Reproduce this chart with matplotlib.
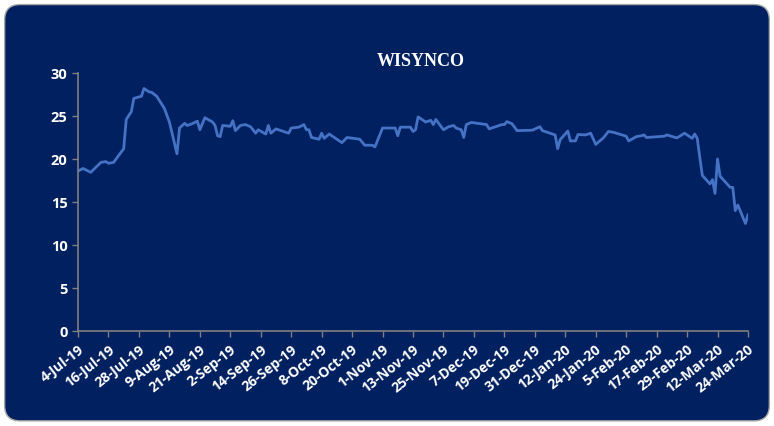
import matplotlib
matplotlib.use("Agg")
import matplotlib.pyplot as plt
import matplotlib.dates as mdates
from matplotlib.patches import FancyBboxPatch
import pandas as pd

# closing price readings (approximate)
dates = ["2019-07-04", "2019-07-06", "2019-07-09", "2019-07-13", "2019-07-15", "2019-07-16",
         "2019-07-18", "2019-07-20", "2019-07-22", "2019-07-23", "2019-07-25", "2019-07-26",
         "2019-07-29", "2019-07-30", "2019-08-01", "2019-08-02", "2019-08-04", "2019-08-07",
         "2019-08-09", "2019-08-12", "2019-08-13", "2019-08-15", "2019-08-16", "2019-08-18",
         "2019-08-20", "2019-08-21", "2019-08-23", "2019-08-26", "2019-08-27", "2019-08-28",
         "2019-08-29", "2019-08-30", "2019-09-02", "2019-09-03", "2019-09-04", "2019-09-06",
         "2019-09-08", "2019-09-10", "2019-09-12", "2019-09-13", "2019-09-16", "2019-09-17",
         "2019-09-18", "2019-09-20", "2019-09-25", "2019-09-26", "2019-09-29", "2019-10-01",
         "2019-10-02", "2019-10-03", "2019-10-04", "2019-10-07", "2019-10-08", "2019-10-09",
         "2019-10-11", "2019-10-16", "2019-10-18", "2019-10-23", "2019-10-25", "2019-10-28",
         "2019-10-29", "2019-11-01", "2019-11-06", "2019-11-07", "2019-11-08", "2019-11-12",
         "2019-11-13", "2019-11-14", "2019-11-15", "2019-11-18", "2019-11-20", "2019-11-21",
         "2019-11-22", "2019-11-25", "2019-11-27", "2019-11-29", "2019-11-30", "2019-12-02",
         "2019-12-03", "2019-12-04", "2019-12-06", "2019-12-12", "2019-12-13", "2019-12-18",
         "2019-12-19", "2019-12-20", "2019-12-22", "2019-12-24", "2019-12-30", "2020-01-02",
         "2020-01-03", "2020-01-08", "2020-01-09", "2020-01-10", "2020-01-13", "2020-01-14",
         "2020-01-16", "2020-01-17", "2020-01-20", "2020-01-22", "2020-01-24", "2020-01-27",
         "2020-01-29", "2020-01-31", "2020-02-05", "2020-02-06", "2020-02-09", "2020-02-11",
         "2020-02-12", "2020-02-13", "2020-02-20", "2020-02-21", "2020-02-25", "2020-02-28",
         "2020-03-02", "2020-03-03", "2020-03-04", "2020-03-05", "2020-03-06", "2020-03-09",
         "2020-03-10", "2020-03-11", "2020-03-12", "2020-03-13", "2020-03-17", "2020-03-18",
         "2020-03-19", "2020-03-20", "2020-03-23", "2020-03-24"]
prices = [18.6, 18.9, 18.45, 19.6, 19.7, 19.5,
          19.6, 20.4, 21.2, 24.6, 25.5, 27.05,
          27.3, 28.2, 27.8, 27.75, 27.3, 25.9,
          24.3, 20.6, 23.6, 24.15, 23.9, 24.1,
          24.4, 23.4, 24.8, 24.3, 23.9, 22.7,
          22.6, 23.9, 23.8, 24.45, 23.3, 23.9,
          24.0, 23.75, 23.0, 23.4, 22.9, 23.9,
          23.0, 23.5, 23.0, 23.6, 23.7, 24.0,
          23.4, 23.4, 22.5, 22.3, 23.0, 22.4,
          22.9, 21.9, 22.5, 22.3, 21.6, 21.6,
          21.4, 23.6, 23.6, 22.7, 23.7, 23.7,
          23.2, 23.4, 24.9, 24.3, 24.5, 24.0,
          24.6, 23.4, 23.75, 23.9, 23.6, 23.4,
          22.5, 24.0, 24.25, 24.0, 23.5, 24.0,
          24.0, 24.35, 24.1, 23.3, 23.35, 23.75,
          23.3, 22.8, 21.2, 22.25, 23.25, 22.1,
          22.1, 22.85, 22.8, 23.0, 21.7, 22.45,
          23.2, 23.1, 22.65, 22.1, 22.6, 22.7,
          22.8, 22.5, 22.65, 22.8, 22.45, 23.0,
          22.4, 22.9, 22.4, 20.2, 18.1, 17.1,
          17.6, 16.0, 20.0, 18.0, 16.7, 16.7,
          14.0, 14.65, 12.5, 13.5]

navy = "#002060"
x = pd.to_datetime(dates)

fig = plt.figure(figsize=(7.74, 4.27), dpi=100)
fig.patch.set_facecolor("white")
# rounded chart area like the excel chart box
box = FancyBboxPatch((0.006, 0.012), 0.988, 0.975, boxstyle="round,pad=0,rounding_size=0.02",
                     transform=fig.transFigure, facecolor=navy, edgecolor="#a6a6a6",
                     linewidth=1, mutation_aspect=774/427, zorder=-10)
fig.patches.append(box)

ax = fig.add_axes([0.1008, 0.2225, 0.8656, 0.6042])
ax.set_facecolor(navy)
ax.plot(x, prices, color="#4472C4", linewidth=2)

ax.set_xlim(pd.Timestamp("2019-07-04"), pd.Timestamp("2020-03-24"))
ax.set_ylim(0, 30)
ax.set_yticks([0, 5, 10, 15, 20, 25, 30])
ticks = pd.date_range("2019-07-04", "2020-03-24", freq="12D")
ax.set_xticks(ticks)
ax.xaxis.set_major_formatter(mdates.DateFormatter("%-d-%b-%y"))

for s in ["top", "right"]:
    ax.spines[s].set_visible(False)
for s in ["left", "bottom"]:
    ax.spines[s].set_color("#7f7f7f")
    ax.spines[s].set_linewidth(1.2)

ax.tick_params(colors="#7f7f7f", length=4, width=1)
for lab in ax.get_yticklabels():
    lab.set_color("white")
    lab.set_fontweight("bold")
    lab.set_fontsize(10.5)
    lab.set_family("Open Sans")
for lab in ax.get_xticklabels():
    lab.set_color("white")
    lab.set_fontweight("bold")
    lab.set_fontsize(10)
    lab.set_family("Open Sans")
    lab.set_rotation(38)
    lab.set_ha("right")
    lab.set_rotation_mode("anchor")

fig.text(0.543, 0.855, "WISYNCO", color="white", fontsize=13, fontweight="bold",
         family="Liberation Serif", ha="center", va="center")

fig.savefig("out.png", dpi=100, facecolor=fig.get_facecolor())
